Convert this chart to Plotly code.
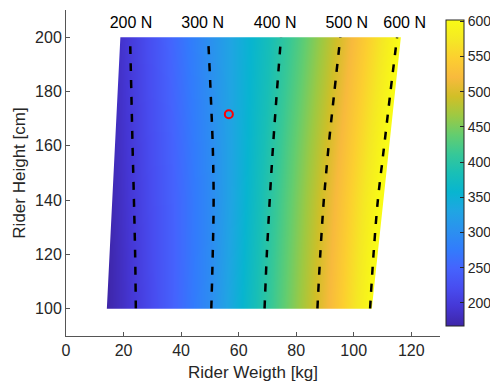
import plotly.graph_objects as go

# ---------------- data ----------------
weights = [10, 20, 30, 40, 50, 60, 70, 80, 90, 100, 110, 120]          # kg (grid columns)
heights = [100, 120, 140, 160, 180, 200]                                # cm (grid rows)
force = [  # N, one row per height
    [154.0, 185.0, 220.1, 258.7, 297.3, 350.8, 405.4, 459.8, 514.2, 568.9, 623.5, 678.0],
    [152.8, 185.8, 221.0, 257.9, 294.8, 346.7, 401.1, 454.9, 508.7, 562.8, 616.8, 670.9],
    [154.5, 187.5, 222.1, 257.8, 293.5, 343.1, 395.7, 448.9, 502.1, 555.3, 608.5, 661.7],
    [156.1, 189.1, 223.9, 259.6, 295.3, 341.8, 389.9, 441.2, 493.3, 545.1, 596.9, 648.7],
    [157.4, 190.4, 225.9, 262.4, 298.9, 341.4, 384.1, 432.1, 483.1, 534.4, 585.7, 636.9],
    [158.8, 191.8, 227.9, 265.1, 302.3, 340.8, 379.3, 423.0, 473.0, 523.4, 574.2, 624.9],
]
# extent of the valid region (weight limits at lowest / highest height)
region_h = [100, 200]
region_wmin = [14.2, 18.9]
region_wmax = [106.3, 116.4]

contour_levels = [200, 300, 400, 500, 600]
label_texts = ["200 N", "300 N", "400 N", "500 N", "600 N"]
label_x = [22.6, 47.5, 72.7, 97.6, 117.7]
label_y = [205, 205, 205, 205, 205]

rider_w = [56.6]
rider_h = [171.6]

cmin, cmax = 167, 602
x_range = [0, 130]
y_range = [90, 210]

parula = [
    [0.2422, 0.1504, 0.6603], [0.2706, 0.2147, 0.8364], [0.2813, 0.3006, 0.9414],
    [0.2699, 0.3892, 0.9906], [0.1963, 0.4847, 0.9892], [0.1687, 0.5703, 0.9359],
    [0.1248, 0.6459, 0.8883], [0.0297, 0.7082, 0.8163], [0.0964, 0.7500, 0.7120],
    [0.2161, 0.7843, 0.5923], [0.3909, 0.8029, 0.4354], [0.6174, 0.7876, 0.2612],
    [0.8203, 0.7498, 0.1535], [0.9728, 0.7298, 0.2394], [0.9892, 0.8136, 0.1885],
    [0.9597, 0.9135, 0.1423], [0.9769, 0.9839, 0.0805],
]
n = len(parula)
colorscale = [[i / (n - 1), "rgb(%d,%d,%d)" % tuple(round(c * 255) for c in rgb)]
              for i, rgb in enumerate(parula)]

FONT = "Liberation Sans, Arial, sans-serif"
DARK = "#262626"

fig = go.Figure()

fig.add_trace(go.Heatmap(
    x=weights, y=heights, z=force, zsmooth="best",
    colorscale=colorscale, zmin=cmin, zmax=cmax,
    colorbar=dict(
        x=1.016, xanchor="left", xpad=0, y=0.5, yanchor="middle", len=1.0,
        thickness=18, outlinecolor=DARK, outlinewidth=1,
        ticks="inside", ticklen=4, tickcolor=DARK,
        tick0=0, dtick=50,
        tickfont=dict(family=FONT, size=14, color=DARK),
    ),
    hoverinfo="skip",
))

fig.add_trace(go.Contour(
    x=weights, y=heights, z=force,
    contours=dict(coloring="none", start=contour_levels[0], end=contour_levels[-1],
                  size=contour_levels[1] - contour_levels[0]),
    line=dict(color="black", width=2.5, dash="8px,9px", smoothing=1),
    showscale=False, hoverinfo="skip",
))

# white mask outside the valid parallelogram region
mask_x = [x_range[0], x_range[1], x_range[1], x_range[0], x_range[0],
          region_wmin[0], region_wmin[1], region_wmax[1], region_wmax[0], region_wmin[0],
          x_range[0]]
mask_y = [y_range[0], y_range[0], y_range[1], y_range[1], y_range[0],
          region_h[0], region_h[1], region_h[1], region_h[0], region_h[0],
          y_range[0]]
fig.add_trace(go.Scatter(
    x=mask_x, y=mask_y, mode="lines", fill="toself", fillcolor="white",
    line=dict(width=0, color="white"), hoverinfo="skip", showlegend=False,
))

fig.add_trace(go.Scatter(
    x=rider_w, y=rider_h, mode="markers",
    marker=dict(symbol="circle-open", size=8, color="red", line=dict(width=2, color="red")),
    showlegend=False, hoverinfo="skip",
))

fig.add_trace(go.Scatter(
    x=label_x, y=label_y, mode="text", text=label_texts,
    textfont=dict(family=FONT, size=16, color="black"),
    showlegend=False, hoverinfo="skip", cliponaxis=False,
))

axis_common = dict(
    showline=True, linecolor="#555555", linewidth=1, mirror=False,
    ticks="inside", ticklen=4, tickcolor="#555555",
    showgrid=False, zeroline=False, automargin=False,
    tickfont=dict(family=FONT, size=16, color=DARK),
)

# page has an 8px body margin: figure is sized / offset to compensate
fig.update_layout(
    width=490, height=378,
    margin=dict(l=58, r=58, t=2, b=50, autoexpand=False),
    paper_bgcolor="white", plot_bgcolor="white",
    showlegend=False,
    xaxis=dict(range=x_range, tick0=0, dtick=20, **axis_common,
               title=dict(text="Rider Weigth [kg]", standoff=7,
                          font=dict(family=FONT, size=17, color=DARK))),
    yaxis=dict(range=y_range, tick0=0, dtick=20, **axis_common,
               title=dict(text="Rider Height [cm]", standoff=5,
                          font=dict(family=FONT, size=17, color=DARK))),
)

fig.write_html("out.html")
